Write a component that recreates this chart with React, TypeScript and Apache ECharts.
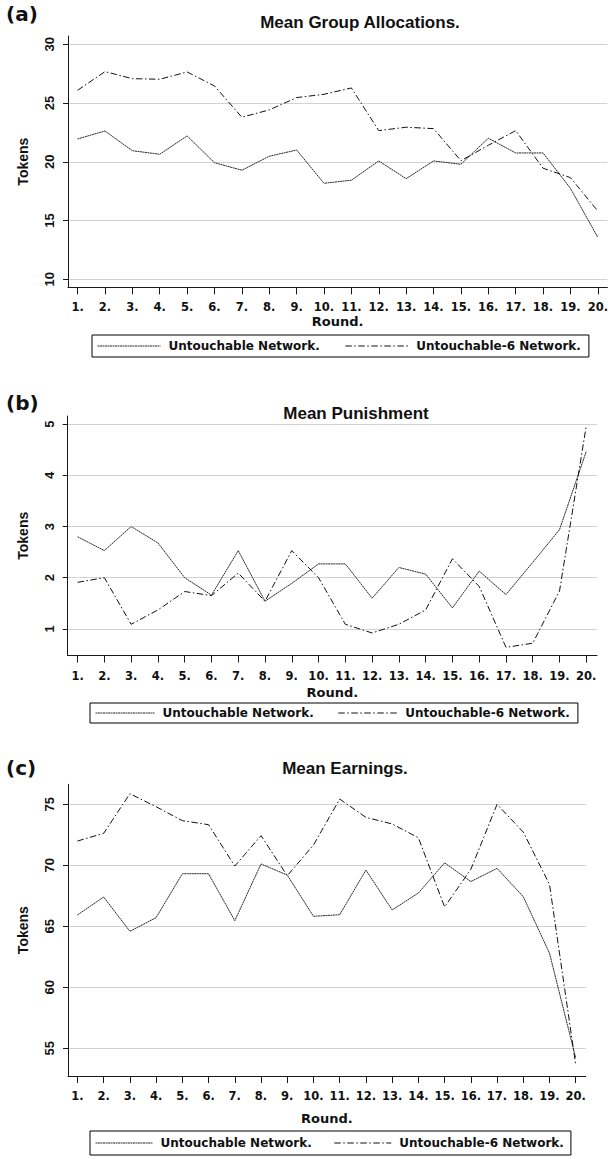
import React, { useEffect, useRef } from "react";
import * as echarts from "echarts";

// ---------- data ----------
const rounds = [1, 2, 3, 4, 5, 6, 7, 8, 9, 10, 11, 12, 13, 14, 15, 16, 17, 18, 19, 20];

const seriesNames = ["Untouchable Network.", "Untouchable-6 Network."];
const panelTitles = ["Mean Group Allocations.", "Mean Punishment", "Mean Earnings."];
const panelLetters = ["(a)", "(b)", "(c)"];
const xAxisName = "Round.";
const yAxisName = "Tokens";

const allocUntouchable = [21.94, 22.62, 20.94, 20.64, 22.2, 19.92, 19.28, 20.47, 21.0, 18.17, 18.43, 20.07, 18.56, 20.07, 19.79, 22.0, 20.75, 20.75, 17.74, 13.57];
const allocUntouchable6 = [26.08, 27.67, 27.07, 27.02, 27.64, 26.45, 23.79, 24.41, 25.46, 25.74, 26.28, 22.65, 22.94, 22.82, 20.09, 21.4, 22.65, 19.45, 18.65, 15.81];

const punUntouchable = [2.8, 2.53, 3.0, 2.68, 2.0, 1.66, 2.53, 1.54, 1.89, 2.27, 2.27, 1.6, 2.2, 2.07, 1.41, 2.13, 1.67, 2.3, 2.94, 4.47];
const punUntouchable6 = [1.91, 2.0, 1.09, 1.37, 1.73, 1.65, 2.09, 1.54, 2.53, 2.0, 1.09, 0.92, 1.09, 1.37, 2.37, 1.83, 0.64, 0.72, 1.74, 4.97];

const earnUntouchable = [65.93, 67.4, 64.59, 65.71, 69.31, 69.31, 65.46, 70.11, 69.2, 65.82, 65.95, 69.61, 66.34, 67.73, 70.2, 68.67, 69.75, 67.43, 62.79, 54.2];
const earnUntouchable6 = [71.99, 72.62, 75.87, 74.8, 73.66, 73.33, 69.94, 72.43, 69.15, 71.66, 75.43, 73.93, 73.39, 72.26, 66.59, 69.67, 75.0, 72.72, 68.43, 53.63];

const yTicksA = [10, 15, 20, 25, 30];
const yTicksB = [1, 2, 3, 4, 5];
const yTicksC = [55, 60, 65, 70, 75];

// ---------- layout ----------
const panels = [
  {
    grid: { left: 68, top: 36, width: 543, height: 251.3 },
    xMin: 0.65, xMax: 20.35, yMin: 9.32, yMax: 30.7, yTicks: yTicksA,
    u: allocUntouchable, u6: allocUntouchable6,
    titleX: 360, titleY: 14, letterY: 4, roundGap: 28,
    legend: { left: 92, top: 335, itemWidth: 63, itemGap: 25, padding: [5, 8, 5, 5] },
  },
  {
    grid: { left: 67.7, top: 416, width: 529.3, height: 239.5 },
    xMin: 0.63, xMax: 20.4, yMin: 0.48, yMax: 5.16, yTicks: yTicksB,
    u: punUntouchable, u6: punUntouchable6,
    titleX: 356, titleY: 405, letterY: 393, roundGap: 30,
    legend: { left: 90, top: 703, itemWidth: 59, itemGap: 24, padding: [4, 8, 4, 5] },
  },
  {
    grid: { left: 68, top: 784.3, width: 517.7, height: 291.7 },
    xMin: 0.64, xMax: 20.38, yMin: 52.73, yMax: 76.64, yTicks: yTicksC,
    u: earnUntouchable, u6: earnUntouchable6,
    titleX: 345, titleY: 760, letterY: 758, roundGap: 36,
    legend: { left: 90, top: 1131, itemWidth: 57, itemGap: 22, padding: [6, 7, 6, 5] },
  },
];

const AX = "#1a1a1a";
const TXT = "#111111";

function buildOption() {
  const grids: any[] = [];
  const xAxes: any[] = [];
  const yAxes: any[] = [];
  const series: any[] = [];
  const titles: any[] = [];
  const legends: any[] = [];

  panels.forEach((p, i) => {
    grids.push({ ...p.grid, containLabel: false });
    xAxes.push({
      type: "value",
      gridIndex: i,
      min: p.xMin,
      max: p.xMax,
      axisLine: { show: true, onZero: false, lineStyle: { color: AX, width: 1 } },
      axisTick: { show: true, length: 7, customValues: rounds, lineStyle: { color: AX, width: 1 } },
      axisLabel: {
        customValues: rounds,
        formatter: (v: number) => v + ".",
        fontFamily: "DejaVu Sans",
        fontWeight: "bold",
        fontSize: 11.5,
        color: TXT,
        margin: 14,
      },
      splitLine: { show: false },
      name: xAxisName,
      nameLocation: "middle",
      nameGap: p.roundGap,
      nameTextStyle: { fontFamily: "DejaVu Sans", fontWeight: "bold", fontSize: 13, color: TXT },
    });
    yAxes.push({
      type: "value",
      gridIndex: i,
      min: p.yMin,
      max: p.yMax,
      axisLine: { show: true, lineStyle: { color: AX, width: 1 } },
      axisTick: { show: true, length: 5, customValues: p.yTicks, lineStyle: { color: AX, width: 1 } },
      axisLabel: {
        customValues: p.yTicks,
        rotate: 90,
        fontFamily: "Liberation Sans",
        fontWeight: "bold",
        fontSize: 13,
        color: TXT,
        margin: 12,
      },
      splitLine: { show: true, lineStyle: { color: "#d2d2d2", width: 1 } },
      name: yAxisName,
      nameLocation: "middle",
      nameRotate: 90,
      nameGap: 38,
      nameTextStyle: { fontFamily: "Liberation Sans", fontWeight: "bold", fontSize: 14, color: TXT },
    });
    series.push({
      type: "line",
      name: seriesNames[0],
      xAxisIndex: i,
      yAxisIndex: i,
      symbol: "none",
      data: rounds.map((r, k) => [r, p.u[k]]),
      lineStyle: { color: "#2a2a2a", width: 1, type: [2, 0.5] },
      itemStyle: { color: "#2a2a2a" },
    });
    series.push({
      type: "line",
      name: seriesNames[1],
      xAxisIndex: i,
      yAxisIndex: i,
      symbol: "none",
      data: rounds.map((r, k) => [r, p.u6[k]]),
      lineStyle: { color: "#111111", width: 1, type: [6.5, 2.5, 1.5, 2.5] },
      itemStyle: { color: "#111111" },
    });
    titles.push({
      text: panelLetters[i],
      left: 6,
      top: p.letterY,
      padding: 0,
      textStyle: { fontFamily: "DejaVu Sans", fontWeight: "bold", fontSize: 20, color: TXT },
    });
    titles.push({
      text: panelTitles[i],
      left: p.titleX,
      top: p.titleY,
      textAlign: "center",
      padding: 0,
      textStyle: { fontFamily: "Liberation Sans", fontWeight: "bold", fontSize: 17, color: TXT },
    });
    legends.push({
      data: seriesNames,
      left: p.legend.left,
      top: p.legend.top,
      orient: "horizontal",
      itemWidth: p.legend.itemWidth,
      itemHeight: 14,
      itemGap: p.legend.itemGap,
      padding: p.legend.padding,
      borderColor: "#000000",
      borderWidth: 1,
      borderRadius: 0,
      selectedMode: false,
      itemStyle: { opacity: 0 },
      lineStyle: { width: 1 },
      textStyle: {
        fontFamily: "DejaVu Sans",
        fontWeight: "bold",
        fontSize: 12,
        color: TXT,
        padding: [0, 0, 0, 3],
      },
    });
  });

  return {
    animation: false,
    backgroundColor: "#ffffff",
    title: titles,
    legend: legends,
    grid: grids,
    xAxis: xAxes,
    yAxis: yAxes,
    series,
  };
}

export default function App() {
  const ref = useRef<HTMLDivElement | null>(null);
  useEffect(() => {
    if (!ref.current) return;
    const chart = echarts.init(ref.current, undefined, { renderer: "svg" });
    chart.setOption(buildOption() as any);
    return () => {
      chart.dispose();
    };
  }, []);
  return (
    <div
      ref={ref}
      style={{ position: "absolute", left: 0, top: 0, width: 611, height: 1159, background: "#fff" }}
    />
  );
}
